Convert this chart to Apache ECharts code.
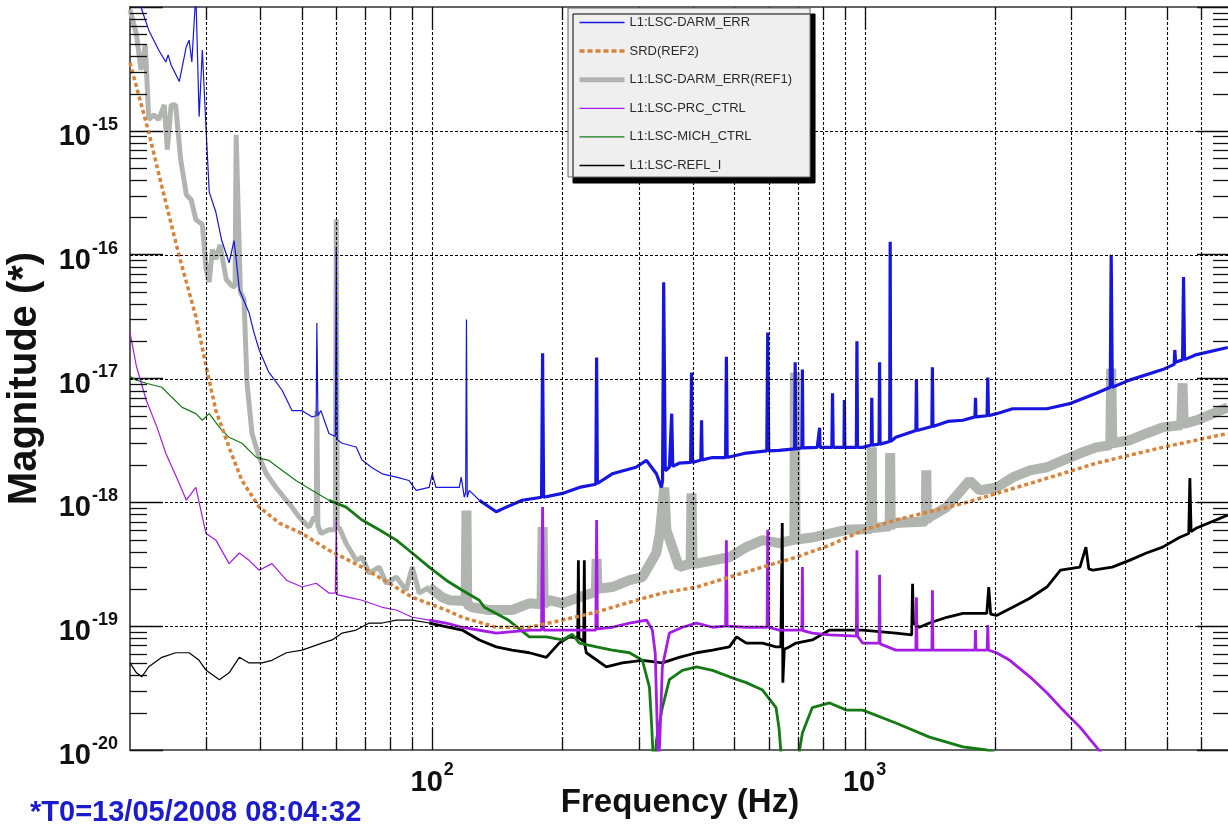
<!DOCTYPE html>
<html>
<head>
<meta charset="utf-8">
<script src="https://cdn.jsdelivr.net/npm/echarts@6.0.0/dist/echarts.min.js"></script>
<style>
  html, body { margin: 0; padding: 0; background: #fff; }
  #chart { width: 1228px; height: 828px; }
</style>
</head>
<body>
<div id="chart"></div>
<script>
// axis ranges
const freqRange = [20, 7000];
const magRange = [1e-20, 1e-14];
const magDecades = [1e-20, 1e-19, 1e-18, 1e-17, 1e-16, 1e-15];

// [frequency (Hz), magnitude]
// L1:LSC-DARM_ERR, thin part below ~130 Hz and noisy part above
const darmLow = [
  [20.9, 1.3e-14], [21.3, 9.5e-15], [22.1, 6.5e-15], [23.3, 4.5e-15], [24.2, 3.6e-15], [24.5, 4.1e-15],
  [24.9, 3.4e-15], [26.0, 2.5e-15], [27.0, 4.8e-15], [27.4, 5.4e-15], [27.8, 3.6e-15], [28.4, 1.3e-14],
  [28.9, 1.3e-15], [29.4, 4.5e-15], [30.0, 1.0e-15], [30.5, 3.2e-16], [31.6, 2.2e-16], [32.6, 1.3e-16],
  [33.9, 8.6e-17], [34.8, 1.3e-16], [35.2, 9.2e-17], [35.8, 5.2e-17], [37.7, 3.4e-17], [38.7, 2.35e-17],
  [39.8, 1.7e-17], [41.9, 1.12e-17], [42.6, 1.04e-17], [45.0, 8.0e-18], [47.4, 5.5e-18], [50.0, 5.5e-18],
  [52.7, 4.9e-18], [53.9, 5.0e-18], [54.1, 2.8e-17], [54.4, 5.0e-18], [55.3, 5.5e-18], [57.7, 3.6e-18],
  [59.7, 3.4e-18], [60.0, 1.16e-16], [60.3, 3.2e-18], [61.9, 3.0e-18], [66.7, 2.8e-18], [68.8, 2.2e-18],
  [72.6, 1.9e-18], [76.6, 1.7e-18], [82.6, 1.6e-18], [88.4, 1.5e-18], [91.8, 1.25e-18], [98.4, 1.32e-18],
  [100, 1.7e-18], [102, 1.32e-18], [115.5, 1.32e-18], [116.7, 1.6e-18], [118.6, 1.1e-18], [119.5, 1.2e-18],
  [120, 3.0e-17], [120.5, 1.1e-18], [121.8, 1.25e-18], [128.5, 1.04e-18]
];
const darmHigh = [
  [128.5, 1.04e-18], [140.6, 8.4e-19], [148.4, 9.15e-19], [161.5, 1.04e-18], [179, 1.1e-18], [180, 1.6e-17],
  [181, 1.1e-18], [200, 1.18e-18], [218.9, 1.32e-18], [239, 1.4e-18], [240, 1.48e-17], [241, 1.42e-18],
  [260.8, 1.7e-18], [296, 1.92e-18], [313, 2.18e-18], [330, 1.7e-18], [338.8, 1.32e-18], [341, 1.5e-18],
  [343, 6.0e-17], [346, 1.8e-18], [353.6, 1.92e-18], [356, 1.95e-18], [358, 5.2e-18], [360, 1.95e-18],
  [372.4, 2.07e-18], [396, 2.1e-18], [397.8, 1.12e-17], [400, 2.1e-18], [418, 2.2e-18], [419.7, 4.6e-18],
  [421, 2.2e-18], [445, 2.3e-18], [477, 2.3e-18], [479, 1.5e-17], [481, 2.3e-18], [532.6, 2.5e-18],
  [594, 2.6e-18], [597, 2.35e-17], [600, 2.6e-18], [634, 2.63e-18], [689, 2.7e-18], [691, 1.35e-17],
  [693, 2.7e-18], [716, 2.75e-18], [718, 1.18e-17], [720, 2.75e-18], [777, 2.78e-18], [785, 2.78e-18],
  [787, 4.0e-18], [789, 2.78e-18], [840, 2.78e-18], [843, 7.6e-18], [846, 2.78e-18], [896, 2.78e-18],
  [898, 6.7e-18], [900, 2.78e-18], [957, 2.78e-18], [960, 2.0e-17], [963, 2.78e-18], [990, 2.78e-18],
  [1036, 2.9e-18], [1039, 7.0e-18], [1042, 2.9e-18], [1080, 2.95e-18], [1083, 1.35e-17], [1086, 2.95e-18],
  [1143, 3.1e-18], [1146, 1.27e-16], [1149, 3.1e-18], [1181, 3.35e-18], [1314, 3.8e-18], [1318, 9.7e-18],
  [1322, 3.8e-18], [1431, 4.1e-18], [1435, 1.23e-17], [1439, 4.1e-18], [1557, 4.5e-18], [1688, 4.6e-18],
  [1800, 4.9e-18], [1805, 7.0e-18], [1810, 4.9e-18], [1920, 5.0e-18], [1927, 1.02e-17], [1934, 5.0e-18],
  [2019, 5.2e-18], [2200, 5.7e-18], [2640, 5.7e-18], [3000, 6.3e-18], [3434, 7.6e-18], [3700, 8.5e-18],
  [3718, 1.0e-16], [3740, 8.5e-18], [4098, 9.7e-18], [4890, 1.18e-17], [5200, 1.3e-17], [5218, 1.7e-17],
  [5240, 1.35e-17], [5437, 1.42e-17], [5466, 6.6e-17], [5495, 1.42e-17], [5860, 1.56e-17], [6920, 1.78e-17]
];

// SRD(REF2)
const srd = [
  [20, 3.55e-15], [22.1, 9.7e-16], [23.7, 3.55e-16], [26.0, 9.7e-17], [28.4, 3.17e-17], [30.0, 1.25e-17],
  [31.6, 5.5e-18], [33.9, 2.78e-18], [36.3, 1.5e-18], [39.8, 9.15e-19], [44.3, 6.8e-19], [50.0, 5.6e-19],
  [57.7, 4.1e-19], [68.8, 3.0e-19], [79.5, 2.22e-19], [89.9, 1.71e-19], [107.7, 1.35e-19], [117.3, 1.18e-19],
  [140.6, 9.8e-20], [167.7, 9.8e-20], [200, 1.12e-19], [239.8, 1.3e-19], [285.9, 1.56e-19], [340.6, 1.85e-19],
  [408.7, 2.07e-19], [486.7, 2.49e-19], [580.6, 3.0e-19], [694, 3.6e-19], [830, 4.5e-19], [1000, 6.0e-19],
  [1181, 7.2e-19], [1688, 9.8e-19], [2411, 1.42e-18], [3434, 2.07e-18], [4890, 2.78e-18], [6920, 3.6e-18]
];

// L1:LSC-DARM_ERR(REF1)
const refLow = [
  [20, 9.5e-15], [20.7, 6.0e-15], [21.2, 3.1e-15], [21.7, 4.95e-15], [22.1, 1.23e-15], [22.7, 1.35e-15],
  [23.3, 1.23e-15], [24.0, 1.62e-15], [24.4, 7.05e-16], [24.9, 1.62e-15], [25.5, 1.62e-15], [26.2, 5.85e-16],
  [27.0, 3.05e-16], [27.7, 2.78e-16], [28.4, 1.92e-16], [29.4, 1.75e-16], [30.0, 7.6e-17], [30.5, 6.0e-17],
  [31.0, 1.1e-16], [31.6, 9.2e-17], [32.3, 1.2e-16], [33.4, 6.3e-17], [34.4, 5.6e-17], [35.0, 5.5e-17],
  [35.2, 9.3e-16], [35.5, 9.3e-16], [36.0, 5.0e-17], [36.7, 4.35e-17], [37.3, 9.15e-18], [38.3, 3.6e-18],
  [39.8, 2.31e-18], [41.3, 1.71e-18], [43.5, 1.32e-18], [46.0, 1.04e-18], [47.4, 9.15e-19], [49.2, 7.6e-19],
  [51.9, 6.3e-19], [53.3, 7.6e-19], [53.9, 7.0e-19], [54.1, 5.5e-18], [54.4, 6.5e-19], [55.3, 5.6e-19],
  [57.7, 6.0e-19], [59.7, 6.0e-19], [60.0, 1.92e-16], [60.3, 6.0e-19], [60.9, 6.3e-19], [63.2, 4.68e-19],
  [66.7, 3.4e-19], [68.8, 3.6e-19], [71.5, 2.68e-19], [75.4, 3.0e-19], [78.3, 2.22e-19], [82.6, 2.49e-19],
  [87.0, 1.95e-19], [89.9, 3.0e-19], [93.3, 1.85e-19], [98.4, 2.07e-19]
];
const refHigh = [
  [98.4, 2.07e-19], [105.5, 1.71e-19], [109.5, 1.62e-19], [119.5, 1.6e-19], [120, 8.6e-19], [120.5, 1.5e-19],
  [123.8, 1.42e-19], [135.5, 1.35e-19], [153, 1.35e-19], [167.7, 1.53e-19], [179, 1.5e-19], [180, 6.3e-19],
  [181, 1.5e-19], [186.5, 1.62e-19], [200, 1.53e-19], [218.9, 1.71e-19], [239, 1.9e-19], [240, 3.5e-19],
  [241, 2.0e-19], [260.8, 2.07e-19], [285.9, 2.35e-19], [306.3, 2.49e-19], [329.8, 3.9e-19], [336, 5.6e-19],
  [344, 1.32e-18], [348, 6.0e-19], [372.4, 3.0e-19], [396, 3.2e-19], [397.8, 1.18e-18], [400, 3.2e-19],
  [408.7, 3.2e-19], [445, 3.4e-19], [486.7, 3.6e-19], [532.6, 4.35e-19], [580.6, 4.95e-19], [634, 4.68e-19],
  [688, 5.0e-19], [690, 1.12e-17], [692, 5.0e-19], [757, 5.2e-19], [830, 5.6e-19], [908, 6.0e-19],
  [1036, 6.1e-19], [1039, 2.78e-18], [1042, 6.2e-19], [1143, 6.4e-19], [1146, 2.5e-18], [1149, 6.5e-19],
  [1181, 6.8e-19], [1385, 7.0e-19], [1389, 1.81e-18], [1393, 7.2e-19], [1413, 7.6e-19], [1549, 9.15e-19],
  [1749, 1.5e-18], [1845, 1.25e-18], [2019, 1.32e-18], [2200, 1.59e-18], [2411, 1.81e-18], [2640, 1.92e-18],
  [2876, 2.18e-18], [3148, 2.49e-18], [3434, 2.78e-18], [3700, 2.9e-18], [3718, 1.2e-17], [3740, 3.0e-18],
  [4098, 3.17e-18], [4485, 3.6e-18], [4890, 4.03e-18], [5400, 4.2e-18], [5437, 9.15e-18], [5470, 4.3e-18],
  [5860, 4.6e-18], [6920, 5.85e-18]
];

// L1:LSC-PRC_CTRL
const prcLow = [
  [20, 2.35e-17], [20.7, 1.25e-17], [21.8, 6.7e-18], [23.1, 4.03e-18], [24.2, 2.49e-18], [26.0, 1.42e-18],
  [27.0, 1.04e-18], [28.4, 1.32e-18], [29.4, 7.6e-19], [30.0, 5.6e-19], [31.6, 4.95e-19], [33.9, 3.2e-19],
  [35.8, 3.9e-19], [37.7, 3.4e-19], [39.8, 2.83e-19], [42.6, 3.2e-19], [46.0, 2.35e-19], [50.0, 2.07e-19],
  [53.9, 2.22e-19], [57.7, 1.85e-19], [59.7, 1.85e-19], [60.0, 7.6e-19], [60.3, 1.8e-19], [64.2, 1.71e-19],
  [68.8, 1.62e-19], [76.6, 1.42e-19], [82.6, 1.35e-19], [89.9, 1.18e-19], [98.4, 1.12e-19]
];
const prcHigh = [
  [98.4, 1.12e-19], [107.7, 1.06e-19], [117.3, 9.8e-20], [140.6, 8.8e-20], [167.7, 9.3e-20], [179, 9.3e-20],
  [180, 9.15e-19], [181, 9.3e-20], [200, 9.3e-20], [239, 9.3e-20], [240, 7.2e-19], [241, 9.5e-20],
  [260.8, 9.8e-20], [285.9, 1.06e-19], [313, 1.12e-19], [323, 9.3e-20], [328, 6.0e-20], [332, 1.2e-20],
  [334, 8.0e-21], [336, 1.2e-20], [340.6, 4.7e-20], [353.6, 8.8e-20], [378.9, 9.8e-20], [408.7, 1.06e-19],
  [445, 9.8e-20], [477, 1.0e-19], [479, 4.95e-19], [481, 1.0e-19], [532.6, 9.8e-20], [595, 9.8e-20],
  [597, 6.0e-19], [600, 9.8e-20], [634, 9.3e-20], [694, 9.3e-20], [716, 9.3e-20], [718, 3.0e-19],
  [720, 9.2e-20], [757, 8.8e-20], [830, 8.5e-20], [957, 8.3e-20], [960, 4.1e-19], [963, 8.3e-20],
  [990, 7.3e-20], [1080, 7.3e-20], [1083, 2.6e-19], [1086, 7.2e-20], [1181, 6.4e-20], [1314, 6.4e-20],
  [1318, 1.71e-19], [1322, 6.4e-20], [1431, 6.4e-20], [1435, 1.95e-19], [1439, 6.4e-20], [1549, 6.4e-20],
  [1800, 6.4e-20], [1805, 9.3e-20], [1810, 6.4e-20], [1920, 6.4e-20], [1927, 1.02e-19], [1934, 6.4e-20],
  [2019, 6.1e-20], [2167, 5.3e-20], [2411, 3.9e-20], [2640, 2.9e-20], [2876, 2.1e-20], [3148, 1.53e-20],
  [3434, 1.06e-20], [3530, 9.4e-21]
];

// L1:LSC-MICH_CTRL
const michLow = [
  [20, 1.04e-17], [20.7, 9.7e-18], [21.8, 9.15e-18], [23.7, 8.5e-18], [25.0, 7.05e-18], [26.4, 5.85e-18],
  [28.4, 5.2e-18], [29.4, 4.6e-18], [30.5, 5.2e-18], [32.2, 4.03e-18], [33.9, 3.35e-18], [36.3, 3.0e-18],
  [39.2, 2.31e-18], [41.9, 2.18e-18], [45.0, 1.81e-18], [48.4, 1.5e-18], [52.7, 1.25e-18], [57.7, 1.04e-18]
];
const michHigh = [
  [57.7, 1.04e-18], [63.2, 9.15e-19], [68.8, 7.2e-19], [75.4, 6.0e-19], [82.6, 4.95e-19], [89.9, 3.9e-19],
  [98.4, 3.0e-19], [107.7, 2.35e-19], [117.3, 1.95e-19], [128.5, 1.62e-19], [132, 1.42e-19], [150, 1.12e-19],
  [167.7, 8.2e-20], [183.6, 8.2e-20], [200, 7.74e-20], [210.9, 8.6e-20], [218.9, 7.3e-20], [239.8, 6.8e-20],
  [260.8, 6.4e-20], [285.9, 6.1e-20], [306.3, 5.3e-20], [318, 3.2e-20], [322, 1.5e-20], [326, 6.0e-21],
  [330, 1.2e-20], [340.6, 2.2e-20], [353.6, 3.7e-20], [378.9, 4.4e-20], [408.7, 4.7e-20], [445, 4.4e-20],
  [486.7, 3.9e-20], [532.6, 3.5e-20], [580.6, 3.05e-20], [624, 2.2e-20], [634, 1.5e-20], [645, 7.0e-21],
  [700, 8.0e-21], [718, 1.37e-20], [757, 2.2e-20], [830, 2.4e-20], [908, 2.1e-20], [990, 2.1e-20],
  [1181, 1.65e-20], [1413, 1.27e-20], [1688, 1.06e-20], [1917, 1.0e-20], [2000, 9.5e-21]
];

// L1:LSC-REFL_I
const reflLow = [
  [20, 5.05e-20], [20.7, 4.2e-20], [21.3, 3.9e-20], [22.1, 4.7e-20], [23.7, 5.6e-20], [25.5, 6.1e-20],
  [27.4, 6.1e-20], [28.9, 5.3e-20], [30.0, 4.4e-20], [32.2, 3.7e-20], [33.9, 4.2e-20], [35.8, 5.6e-20],
  [37.7, 5.05e-20], [40.4, 5.05e-20], [42.6, 5.3e-20], [46.0, 6.1e-20], [50.0, 6.4e-20], [55.6, 7.3e-20],
  [58.7, 7.74e-20], [61.9, 8.8e-20], [66.7, 9.3e-20], [71.5, 1.06e-19], [76.6, 1.06e-19], [82.6, 1.12e-19],
  [89.9, 1.12e-19], [98.4, 1.06e-19]
];
const reflHigh = [
  [98.4, 1.06e-19], [117.3, 9.3e-20], [128.5, 7.74e-20], [140.6, 6.8e-20], [153, 6.4e-20], [167.7, 6.1e-20],
  [183.6, 5.6e-20], [196.6, 7.3e-20], [207.5, 8.2e-20], [217, 8.0e-20], [217.8, 3.4e-19], [218.5, 8.0e-20],
  [224, 7.5e-20], [224.8, 3.4e-19], [225.5, 7.0e-20], [227.2, 6.1e-20], [252.7, 4.7e-20], [275.2, 5.05e-20],
  [306.3, 5.3e-20], [340.6, 5.05e-20], [372.4, 5.6e-20], [408.7, 6.1e-20], [445, 6.4e-20], [486.7, 6.8e-20],
  [505.8, 8.2e-20], [532.6, 7.3e-20], [580.6, 7.3e-20], [624, 6.8e-20], [640, 6.8e-20], [645, 6.8e-19],
  [647, 3.5e-20], [652, 6.5e-20], [669, 6.8e-20], [694, 7.3e-20], [757, 7.74e-20], [830, 9.3e-20],
  [990, 9.3e-20], [1181, 8.8e-20], [1285, 8.5e-20], [1291, 2.2e-19], [1297, 1.06e-19], [1339, 9.8e-20],
  [1413, 1.06e-19], [1549, 1.18e-19], [1688, 1.27e-19], [1917, 1.27e-19], [1937, 2.07e-19], [1957, 1.25e-19],
  [2019, 1.22e-19], [2200, 1.42e-19], [2411, 1.68e-19], [2640, 2.07e-19], [2838, 2.83e-19], [3148, 3.0e-19],
  [3250, 4.35e-19], [3300, 2.9e-19], [3375, 2.83e-19], [3738, 3.0e-19], [4098, 3.4e-19], [4485, 3.9e-19],
  [4890, 4.35e-19], [5345, 5.2e-19], [5620, 5.6e-19], [5653, 1.57e-18], [5690, 5.8e-19], [5860, 6.2e-19],
  [6920, 7.9e-19]
];

const names = ['L1:LSC-DARM_ERR', 'SRD(REF2)', 'L1:LSC-DARM_ERR(REF1)', 'L1:LSC-PRC_CTRL', 'L1:LSC-MICH_CTRL', 'L1:LSC-REFL_I'];
const colors = ['#1616e0', '#d9823a', '#b1b5af', '#a41ce6', '#157a15', '#000000'];
const FONT = '"Liberation Sans", Arial, sans-serif';

const chart = echarts.init(document.getElementById('chart'));

// one line segment of a trace; thin and noisy parts share the same name
function trace(i, data, width, z, type) {
  return {
    name: names[i], type: 'line', data: data, z: z,
    symbol: 'none', showSymbol: false, clip: true, silent: true,
    lineStyle: { color: colors[i], width: width, type: type || 'solid', cap: 'butt' },
    itemStyle: { color: colors[i] },
    emphasis: { disabled: true },
    animation: false
  };
}

function isDecade(v) {
  const l = Math.log10(v);
  return Math.abs(l - Math.round(l)) < 1e-6;
}

const powLabel = (v) => '{b|10}{s|' + Math.round(Math.log10(v)) + '}';
const richPow = {
  b: { fontSize: 29, fontWeight: 'bold', color: '#111', fontFamily: FONT, padding: [12, 0, 0, 0] },
  s: { fontSize: 18, fontWeight: 'bold', color: '#111', fontFamily: FONT, padding: [0, 0, 12, 1] }
};
const axisLineStyle = { color: '#333', width: 1.6 };

// legend swatches: thick grey, thick dashed orange, thin others
const legendItems = names.map((n, i) => ({
  name: n,
  lineStyle: i === 2 ? { width: 5 } : i === 1 ? { width: 3.5, type: [5, 3] } : { width: 1.3 }
}));

chart.setOption({
  backgroundColor: '#fff',
  animation: false,
  textStyle: { fontFamily: FONT },
  grid: { left: 130, top: 7, width: 1100, height: 743, containLabel: false, outerBoundsMode: 'none' },
  legend: {
    data: legendItems,
    orient: 'vertical',
    left: 568, top: 8,
    padding: [8, 18, 5, 9],
    itemWidth: 45, itemHeight: 14, itemGap: 15.6,
    backgroundColor: '#efefef',
    borderColor: '#666', borderWidth: 1,
    shadowColor: '#000', shadowBlur: 0, shadowOffsetX: 5, shadowOffsetY: 6,
    textStyle: { fontSize: 13, color: '#2a2a2a', fontFamily: FONT },
    itemStyle: { opacity: 0 },
    selectedMode: false,
    z: 20
  },
  xAxis: [
    {
      type: 'log', logBase: 10, min: freqRange[0], max: freqRange[1], position: 'bottom',
      name: 'Frequency (Hz)', nameLocation: 'middle', nameGap: 36, nameMoveOverlap: false,
      nameTextStyle: { fontSize: 33, fontWeight: 'bold', color: '#111', fontFamily: FONT },
      axisLine: { show: true, lineStyle: axisLineStyle },
      axisTick: { show: false }, splitLine: { show: false },
      axisLabel: {
        margin: 6, rich: richPow,
        formatter: (v) => (isDecade(v) && v > freqRange[0] && v < freqRange[1]) ? powLabel(v) : ''
      }
    },
    {
      type: 'log', logBase: 10, min: freqRange[0], max: freqRange[1], position: 'top',
      axisLine: { show: true, lineStyle: axisLineStyle },
      axisTick: { show: false }, splitLine: { show: false }, axisLabel: { show: false }
    }
  ],
  yAxis: [
    {
      type: 'log', logBase: 10, min: magRange[0], max: magRange[1], position: 'left',
      name: 'Magnitude (*)', nameLocation: 'middle', nameGap: 85, nameMoveOverlap: false,
      nameTextStyle: { fontSize: 40, fontWeight: 'bold', color: '#111', fontFamily: FONT },
      axisLine: { show: true, lineStyle: axisLineStyle },
      axisTick: { show: true, inside: true, length: 33, lineStyle: { color: '#111', width: 1.3 } },
      splitLine: { show: false },
      axisLabel: {
        margin: 12, rich: richPow,
        formatter: (v) => (isDecade(v) && v < magRange[1] * 0.5) ? powLabel(v) : ''
      }
    },
    {
      type: 'log', logBase: 10, min: magRange[0], max: magRange[1], position: 'right',
      axisLine: { show: true, lineStyle: axisLineStyle },
      axisTick: { show: true, inside: true, length: 33, lineStyle: { color: '#111', width: 1.3 } },
      splitLine: { show: false }, axisLabel: { show: false }
    }
  ],
  series: [
    trace(0, darmLow, 1.2, 8),
    trace(0, darmHigh, 3.2, 8),
    trace(1, srd, 3.5, 7, [4, 3]),
    trace(2, refLow, 5, 2),
    trace(2, refHigh, 10, 2),
    trace(3, prcLow, 1.2, 6),
    trace(3, prcHigh, 2.8, 6),
    trace(4, michLow, 1.2, 5),
    trace(4, michHigh, 2.8, 5),
    trace(5, reflLow, 1.2, 4),
    trace(5, reflHigh, 2.8, 4)
  ]
});

// grid lines and minor ticks placed through the axes' own log scales
const toX = (f) => chart.convertToPixel({ xAxisIndex: 0 }, f);
const toY = (v) => chart.convertToPixel({ yAxisIndex: 0 }, v);
const plotTop = toY(magRange[1]), plotBottom = toY(magRange[0]);
const plotLeft = toX(freqRange[0]), plotRight = toX(freqRange[1]);
const dotted = { stroke: '#000', lineWidth: 1.1, lineDash: [3, 2] };
const solid = { stroke: '#111', lineWidth: 1.3 };
const gfx = [];
const seg = (x1, y1, x2, y2, style, z) => gfx.push({ type: 'line', silent: true, z: z, shape: { x1, y1, x2, y2 }, style });

for (let d = 1; d <= 3; d++) {
  for (let k = 1; k <= 9; k++) {
    const f = k * Math.pow(10, d);
    if (f <= freqRange[0] || f >= freqRange[1]) continue;
    const x = Math.round(toX(f)) + 0.5;
    seg(x, plotTop, x, plotBottom, dotted, 10);
    const len = k === 1 ? 22 : 13;
    seg(x, plotBottom, x, plotBottom - len, solid, 11);
    seg(x, plotTop, x, plotTop + len, solid, 11);
  }
}
magDecades.forEach((dec, i) => {
  if (i > 0) {
    const y = Math.round(toY(dec)) + 0.5;
    seg(plotLeft, y, plotRight, y, dotted, 10);
  }
  for (let k = 2; k <= 9; k++) {
    const y = Math.round(toY(k * dec)) + 0.5;
    seg(plotLeft, y, plotLeft + 17, y, solid, 11);
    seg(plotRight - 17, y, plotRight, y, solid, 11);
  }
});

gfx.push({
  type: 'text', left: 30, top: 798, z: 12,
  style: { text: '*T0=13/05/2008 08:04:32', fill: '#1c1ccc', fontSize: 29, fontWeight: 'bold', fontFamily: FONT }
});

chart.setOption({ graphic: gfx });
</script>
</body>
</html>
